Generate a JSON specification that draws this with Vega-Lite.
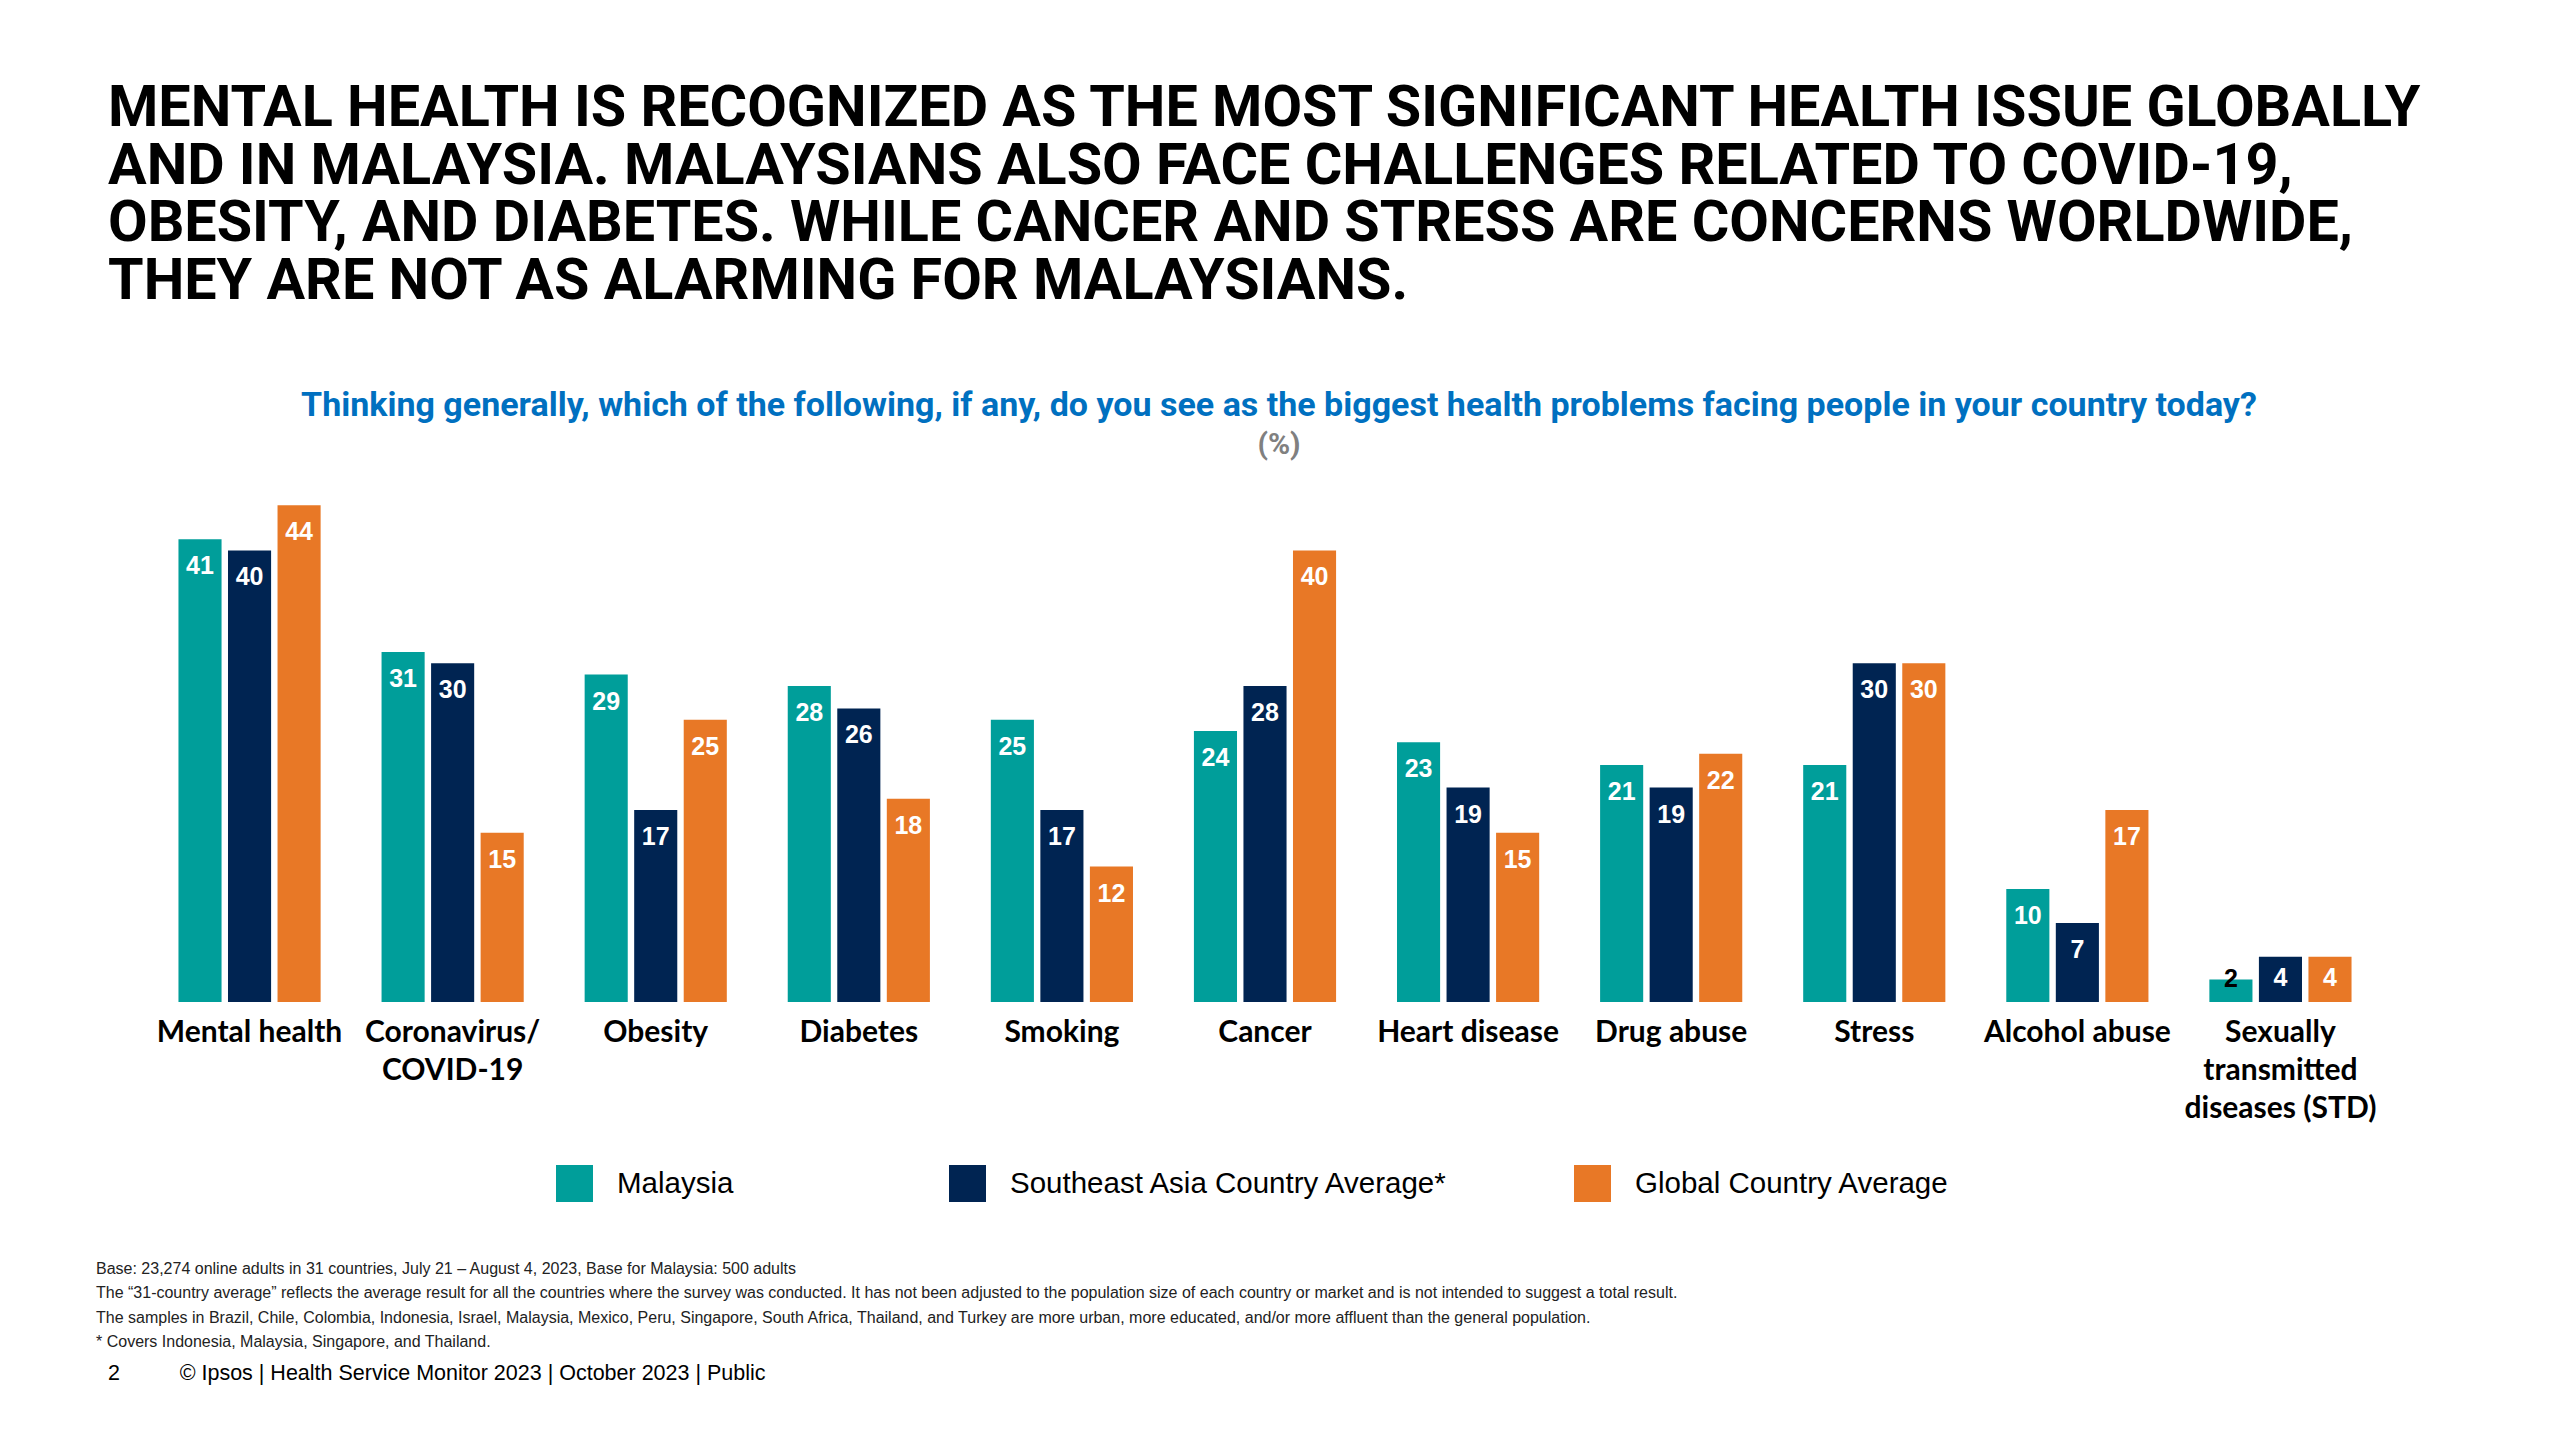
{
  "$schema": "https://vega.github.io/schema/vega-lite/v6.json",
  "background": "white",
  "padding": {"left": 96, "top": 80, "right": 0, "bottom": 0},
  "config": {
    "view": {"stroke": null},
    "font": "Liberation Sans"
  },
  "title": {
    "text": [
      "MENTAL HEALTH IS RECOGNIZED AS THE MOST SIGNIFICANT HEALTH ISSUE GLOBALLY",
      "AND IN MALAYSIA. MALAYSIANS ALSO FACE CHALLENGES RELATED TO COVID-19,",
      "OBESITY, AND DIABETES. WHILE CANCER AND STRESS ARE CONCERNS WORLDWIDE,",
      "THEY ARE NOT AS ALARMING FOR MALAYSIANS."
    ],
    "anchor": "start",
    "font": "Roboto",
    "fontSize": 57.5,
    "fontWeight": "bold",
    "lineHeight": 57.5,
    "color": "#000000",
    "dx": 12,
    "offset": 78
  },
  "datasets": {
    "survey": [
      {"issue": "Mental health", "group": "Malaysia", "pct": 41},
      {"issue": "Mental health", "group": "Southeast Asia Country Average*", "pct": 40},
      {"issue": "Mental health", "group": "Global Country Average", "pct": 44},
      {"issue": "Coronavirus/COVID-19", "group": "Malaysia", "pct": 31},
      {"issue": "Coronavirus/COVID-19", "group": "Southeast Asia Country Average*", "pct": 30},
      {"issue": "Coronavirus/COVID-19", "group": "Global Country Average", "pct": 15},
      {"issue": "Obesity", "group": "Malaysia", "pct": 29},
      {"issue": "Obesity", "group": "Southeast Asia Country Average*", "pct": 17},
      {"issue": "Obesity", "group": "Global Country Average", "pct": 25},
      {"issue": "Diabetes", "group": "Malaysia", "pct": 28},
      {"issue": "Diabetes", "group": "Southeast Asia Country Average*", "pct": 26},
      {"issue": "Diabetes", "group": "Global Country Average", "pct": 18},
      {"issue": "Smoking", "group": "Malaysia", "pct": 25},
      {"issue": "Smoking", "group": "Southeast Asia Country Average*", "pct": 17},
      {"issue": "Smoking", "group": "Global Country Average", "pct": 12},
      {"issue": "Cancer", "group": "Malaysia", "pct": 24},
      {"issue": "Cancer", "group": "Southeast Asia Country Average*", "pct": 28},
      {"issue": "Cancer", "group": "Global Country Average", "pct": 40},
      {"issue": "Heart disease", "group": "Malaysia", "pct": 23},
      {"issue": "Heart disease", "group": "Southeast Asia Country Average*", "pct": 19},
      {"issue": "Heart disease", "group": "Global Country Average", "pct": 15},
      {"issue": "Drug abuse", "group": "Malaysia", "pct": 21},
      {"issue": "Drug abuse", "group": "Southeast Asia Country Average*", "pct": 19},
      {"issue": "Drug abuse", "group": "Global Country Average", "pct": 22},
      {"issue": "Stress", "group": "Malaysia", "pct": 21},
      {"issue": "Stress", "group": "Southeast Asia Country Average*", "pct": 30},
      {"issue": "Stress", "group": "Global Country Average", "pct": 30},
      {"issue": "Alcohol abuse", "group": "Malaysia", "pct": 10},
      {"issue": "Alcohol abuse", "group": "Southeast Asia Country Average*", "pct": 7},
      {"issue": "Alcohol abuse", "group": "Global Country Average", "pct": 17},
      {"issue": "Sexually transmitted diseases (STD)", "group": "Malaysia", "pct": 2},
      {"issue": "Sexually transmitted diseases (STD)", "group": "Southeast Asia Country Average*", "pct": 4},
      {"issue": "Sexually transmitted diseases (STD)", "group": "Global Country Average", "pct": 4}
    ]
  },
  "resolve": {"scale": {"color": "independent"}, "legend": {"color": "independent"}},
  "spacing": 58,
  "vconcat": [
    {
      "width": 2234,
      "height": 508,
      "data": {"name": "survey"},
      "title": {
        "text": "Thinking generally, which of the following, if any, do you see as the biggest health problems facing people in your country today?",
        "subtitle": "(%)",
        "anchor": "middle",
        "font": "Roboto",
        "fontSize": 34,
        "fontWeight": "bold",
        "color": "#0070C0",
        "subtitleFont": "Roboto",
        "subtitleFontSize": 30,
        "subtitleFontWeight": "bold",
        "subtitleColor": "#808080",
        "subtitlePadding": 7,
        "offset": 34,
        "dx": 14
      },
      "encoding": {
        "x": {
          "field": "issue",
          "type": "nominal",
          "sort": null,
          "scale": {"paddingInner": 0.3, "paddingOuter": 0.15},
          "axis": {
            "title": null,
            "domain": false,
            "ticks": false,
            "labelAngle": 0,
            "labelFont": "Lato",
            "labelFontWeight": "bold",
            "labelFontSize": 30,
            "labelColor": "#000000",
            "labelPadding": 15,
            "labelLineHeight": 38,
            "labelBaseline": "top",
            "labelLimit": 500,
            "labelOverlap": false,
            "labelExpr": "datum.value == 'Coronavirus/COVID-19' ? ['Coronavirus/', 'COVID-19'] : datum.value == 'Sexually transmitted diseases (STD)' ? ['Sexually', 'transmitted', 'diseases (STD)'] : datum.label"
          }
        },
        "xOffset": {
          "field": "group",
          "type": "nominal",
          "sort": ["Malaysia", "Southeast Asia Country Average*", "Global Country Average"],
          "scale": {"paddingInner": 0.13, "paddingOuter": 0}
        },
        "y": {
          "field": "pct",
          "type": "quantitative",
          "scale": {"domain": [0, 45]},
          "axis": null
        }
      },
      "layer": [
        {
          "mark": {"type": "bar"},
          "encoding": {
            "color": {
              "field": "group",
              "type": "nominal",
              "sort": ["Malaysia", "Southeast Asia Country Average*", "Global Country Average"],
              "scale": {
                "domain": ["Malaysia", "Southeast Asia Country Average*", "Global Country Average"],
                "range": ["#009E9A", "#002452", "#E87826"]
              },
              "legend": {
                "title": null,
                "orient": "none",
                "legendX": 408,
                "legendY": 671,
                "direction": "horizontal",
                "symbolType": "square",
                "symbolSize": 1369,
                "symbolStrokeWidth": 0,
                "symbolOpacity": 1,
                "labelFont": "Liberation Sans",
                "labelFontSize": 29.5,
                "labelColor": "#000000",
                "labelOffset": 24,
                "labelLimit": 800,
                "labelExpr": "datum.label == 'Malaysia' ? 'Malaysia\u00a0\u00a0\u00a0\u00a0\u00a0\u00a0\u00a0\u00a0\u00a0\u00a0\u00a0\u200b' : datum.label",
                "columnPadding": 125
              }
            }
          }
        },
        {
          "transform": [{"filter": "datum.pct >= 5"}],
          "mark": {"type": "text", "baseline": "middle", "dy": 27, "color": "#FFFFFF", "fontWeight": "bold", "fontSize": 25},
          "encoding": {"text": {"field": "pct", "type": "quantitative"}}
        },
        {
          "transform": [{"filter": "datum.pct >= 3 && datum.pct < 5"}],
          "mark": {"type": "text", "baseline": "middle", "dy": 21, "color": "#FFFFFF", "fontWeight": "bold", "fontSize": 25},
          "encoding": {"text": {"field": "pct", "type": "quantitative"}}
        },
        {
          "transform": [{"filter": "datum.pct < 3"}],
          "mark": {"type": "text", "baseline": "middle", "dy": 0, "color": "#000000", "fontWeight": "bold", "fontSize": 25},
          "encoding": {"text": {"field": "pct", "type": "quantitative"}}
        }
      ]
    },
    {
      "width": 2234,
      "height": 1,
      "data": {"values": [{"note": ""}]},
      "mark": {"type": "text"},
      "encoding": {"text": {"field": "note", "type": "nominal"}},
      "title": {
        "text": [
          "Base: 23,274 online adults in 31 countries, July 21 – August 4, 2023, Base for Malaysia: 500 adults",
          "The “31-country average” reflects the average result for all the countries where the survey was conducted. It has not been adjusted to the population size of each country or market and is not intended to suggest a total result.",
          "The samples in Brazil, Chile, Colombia, Indonesia, Israel, Malaysia, Mexico, Peru, Singapore, South Africa, Thailand, and Turkey are more urban, more educated, and/or more affluent than the general population.",
          "* Covers Indonesia, Malaysia, Singapore, and Thailand."
        ],
        "subtitle": "\u200b\u00a0\u00a02\u00a0\u00a0\u00a0\u00a0\u00a0\u00a0\u00a0\u00a0\u00a0\u00a0© Ipsos | Health Service Monitor 2023 | October 2023 | Public",
        "anchor": "start",
        "dx": -52,
        "font": "Liberation Sans",
        "fontSize": 16,
        "fontWeight": "normal",
        "color": "#222222",
        "lineHeight": 24.5,
        "subtitleFont": "Liberation Sans",
        "subtitleFontSize": 21.5,
        "subtitleColor": "#000000",
        "subtitlePadding": 13,
        "offset": 0
      }
    }
  ]
}
